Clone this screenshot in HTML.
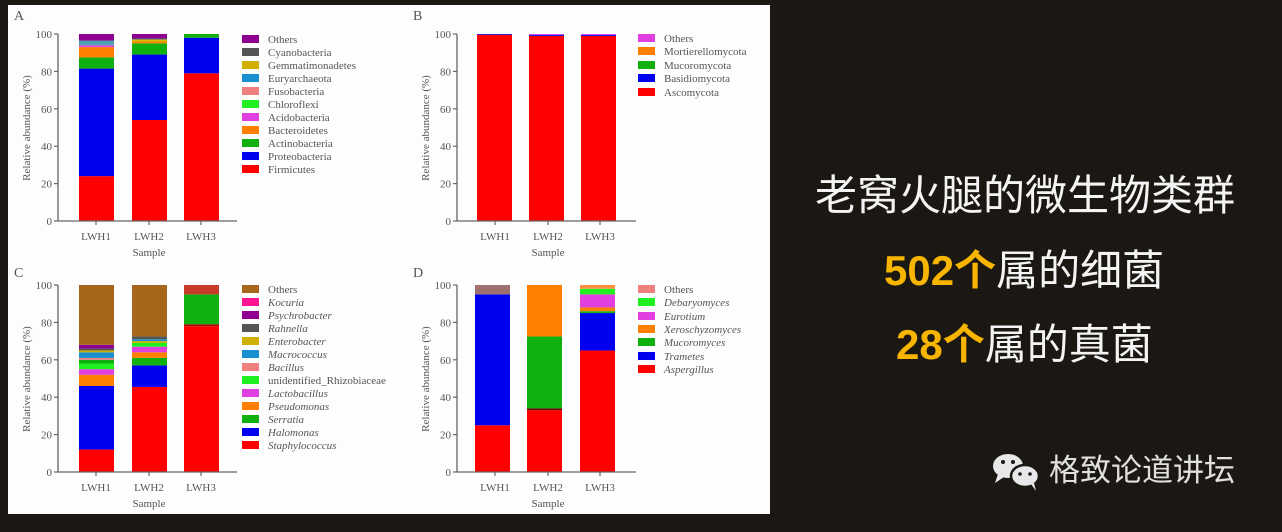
<!DOCTYPE html>
<html><head><meta charset="utf-8"><style>
html,body{margin:0;padding:0;background:#1b1713;}
body{width:1282px;height:532px;position:relative;overflow:hidden;}
svg{position:absolute;left:0;top:0;}
.t{font-family:"Liberation Serif",serif;fill:#555;font-size:11px;}
.ti{font-family:"Liberation Serif",serif;fill:#555;font-size:11px;font-style:italic;}
.cn{position:absolute;font-family:"Liberation Sans","Noto Sans CJK SC",sans-serif;color:#f4f4f4;white-space:nowrap;}
.y{color:#f7b500;font-weight:bold;}
</style></head><body>
<svg width="1282" height="532" viewBox="0 0 1282 532">
<rect x="8" y="5" width="762" height="509" fill="#fdfdfd"/>
<defs>
<g id="axes">
 <line x1="58" y1="34" x2="58" y2="221" stroke="#666" stroke-width="1.3"/>
 <line x1="58" y1="221" x2="237" y2="221" stroke="#666" stroke-width="1.3"/>
 <g stroke="#666" stroke-width="1.2">
 <line x1="54" y1="221" x2="58" y2="221"/><line x1="54" y1="183.6" x2="58" y2="183.6"/><line x1="54" y1="146.2" x2="58" y2="146.2"/><line x1="54" y1="108.8" x2="58" y2="108.8"/><line x1="54" y1="71.4" x2="58" y2="71.4"/><line x1="54" y1="34" x2="58" y2="34"/>
 <line x1="96" y1="221" x2="96" y2="225"/><line x1="149" y1="221" x2="149" y2="225"/><line x1="201" y1="221" x2="201" y2="225"/>
 </g>
 <g class="t" text-anchor="end">
 <text x="52" y="225">0</text><text x="52" y="187.6">20</text><text x="52" y="150.2">40</text><text x="52" y="112.8">60</text><text x="52" y="75.4">80</text><text x="52" y="38">100</text>
 </g>
 <g class="t" text-anchor="middle">
 <text x="96" y="240">LWH1</text><text x="149" y="240">LWH2</text><text x="201" y="240">LWH3</text>
 <text x="149" y="256">Sample</text>
 <text transform="translate(30,128) rotate(-90)">Relative abundance (%)</text>
 </g>
</g>
</defs>

<!-- Panel A -->
<text x="14" y="20" class="t" style="font-size:14px">A</text>
<g transform="translate(0,221) scale(1,-1.87)">
 <rect x="79" y="0" width="35" height="24" fill="#f00"/><rect x="79" y="24" width="35" height="57.5" fill="#0000f0"/><rect x="79" y="81.5" width="35" height="6" fill="#10b010"/><rect x="79" y="87.5" width="35" height="5.5" fill="#ff8000"/><rect x="79" y="93" width="35" height="1" fill="#e040e0"/><rect x="79" y="94" width="35" height="2.5" fill="#50a0b0"/><rect x="79" y="96.5" width="35" height="3.5" fill="#900090"/>
 <rect x="132" y="0" width="35" height="54" fill="#f00"/><rect x="132" y="54" width="35" height="35" fill="#0000f0"/><rect x="132" y="89" width="35" height="6" fill="#10b010"/><rect x="132" y="95" width="35" height="1" fill="#ff8000"/><rect x="132" y="96" width="35" height="1" fill="#d0c000"/><rect x="132" y="97" width="35" height="0.6" fill="#666"/><rect x="132" y="97.6" width="35" height="2.4" fill="#900090"/>
 <rect x="184" y="0" width="35" height="79" fill="#f00"/><rect x="184" y="79" width="35" height="19" fill="#0000f0"/><rect x="184" y="98" width="35" height="2" fill="#10b010"/>
</g>
<use href="#axes"/>
<g>
 <rect x="242" y="35" width="17" height="8" fill="#900090"/><text x="268" y="43" class="t">Others</text>
 <rect x="242" y="48" width="17" height="8" fill="#555"/><text x="268" y="56" class="t">Cyanobacteria</text>
 <rect x="242" y="61" width="17" height="8" fill="#d0b000"/><text x="268" y="69" class="t">Gemmatimonadetes</text>
 <rect x="242" y="74" width="17" height="8" fill="#1890d0"/><text x="268" y="82" class="t">Euryarchaeota</text>
 <rect x="242" y="87" width="17" height="8" fill="#f08080"/><text x="268" y="95" class="t">Fusobacteria</text>
 <rect x="242" y="100" width="17" height="8" fill="#20f020"/><text x="268" y="108" class="t">Chloroflexi</text>
 <rect x="242" y="113" width="17" height="8" fill="#e040e0"/><text x="268" y="121" class="t">Acidobacteria</text>
 <rect x="242" y="126" width="17" height="8" fill="#ff8000"/><text x="268" y="134" class="t">Bacteroidetes</text>
 <rect x="242" y="139" width="17" height="8" fill="#10b010"/><text x="268" y="147" class="t">Actinobacteria</text>
 <rect x="242" y="152" width="17" height="8" fill="#0000f0"/><text x="268" y="160" class="t">Proteobacteria</text>
 <rect x="242" y="165" width="17" height="8" fill="#f00"/><text x="268" y="173" class="t">Firmicutes</text>
</g>

<!-- Panel B -->
<text x="413" y="20" class="t" style="font-size:14px">B</text>
<g transform="translate(399,221) scale(1,-1.87)">
 <rect x="78" y="0" width="35" height="99.6" fill="#f00"/><rect x="78" y="99.6" width="35" height="0.4" fill="#0000f0"/>
 <rect x="130" y="0" width="35" height="99" fill="#f00"/><rect x="130" y="99" width="35" height="0.6" fill="#0000f0"/><rect x="130" y="99.6" width="35" height="0.4" fill="#e040e0"/>
 <rect x="182" y="0" width="35" height="99" fill="#f00"/><rect x="182" y="99" width="35" height="0.6" fill="#0000f0"/><rect x="182" y="99.6" width="35" height="0.4" fill="#e040e0"/>
</g>
<use href="#axes" transform="translate(399,0)"/>
<g>
 <rect x="638" y="34" width="17" height="8" fill="#e040e0"/><text x="664" y="42" class="t">Others</text>
 <rect x="638" y="47" width="17" height="8" fill="#ff8000"/><text x="664" y="55" class="t">Mortierellomycota</text>
 <rect x="638" y="61" width="17" height="8" fill="#10b010"/><text x="664" y="69" class="t">Mucoromycota</text>
 <rect x="638" y="74" width="17" height="8" fill="#0000f0"/><text x="664" y="82" class="t">Basidiomycota</text>
 <rect x="638" y="88" width="17" height="8" fill="#f00"/><text x="664" y="96" class="t">Ascomycota</text>
</g>

<!-- Panel C -->
<text x="14" y="277" class="t" style="font-size:14px">C</text>
<g transform="translate(0,472) scale(1,-1.87)">
 <rect x="79" y="0" width="35" height="12" fill="#f00"/><rect x="79" y="12" width="35" height="34" fill="#0000f0"/><rect x="79" y="46" width="35" height="6" fill="#ff8000"/><rect x="79" y="52" width="35" height="3" fill="#e040e0"/><rect x="79" y="55" width="35" height="3" fill="#20f020"/><rect x="79" y="58" width="35" height="2" fill="#10b010"/><rect x="79" y="60" width="35" height="1" fill="#f08080"/><rect x="79" y="61" width="35" height="3" fill="#1890d0"/><rect x="79" y="64" width="35" height="1" fill="#d0b000"/><rect x="79" y="65" width="35" height="1" fill="#555"/><rect x="79" y="66" width="35" height="2" fill="#900090"/><rect x="79" y="68" width="35" height="32" fill="#a8651c"/>
 <rect x="132" y="0" width="35" height="45.5" fill="#f00"/><rect x="132" y="45.5" width="35" height="11.5" fill="#0000f0"/><rect x="132" y="57" width="35" height="4" fill="#10b010"/><rect x="132" y="61" width="35" height="3" fill="#ff8000"/><rect x="132" y="64" width="35" height="3" fill="#e040e0"/><rect x="132" y="67" width="35" height="2" fill="#20f020"/><rect x="132" y="69" width="35" height="1" fill="#d0b000"/><rect x="132" y="70" width="35" height="1" fill="#1890d0"/><rect x="132" y="71" width="35" height="1.5" fill="#555"/><rect x="132" y="72.5" width="35" height="27.5" fill="#a8651c"/>
 <rect x="184" y="0" width="35" height="78" fill="#f00"/><rect x="184" y="78" width="35" height="1" fill="#a00"/><rect x="184" y="79" width="35" height="16" fill="#10b010"/><rect x="184" y="95" width="35" height="5" fill="#c83a2a"/>
</g>
<use href="#axes" transform="translate(0,251)"/>
<g>
 <rect x="242" y="285" width="17" height="8" fill="#a8651c"/><text x="268" y="293" class="t">Others</text>
 <rect x="242" y="298" width="17" height="8" fill="#ff1493"/><text x="268" y="306" class="ti">Kocuria</text>
 <rect x="242" y="311" width="17" height="8" fill="#900090"/><text x="268" y="319" class="ti">Psychrobacter</text>
 <rect x="242" y="324" width="17" height="8" fill="#555"/><text x="268" y="332" class="ti">Rahnella</text>
 <rect x="242" y="337" width="17" height="8" fill="#d0b000"/><text x="268" y="345" class="ti">Enterobacter</text>
 <rect x="242" y="350" width="17" height="8" fill="#1890d0"/><text x="268" y="358" class="ti">Macrococcus</text>
 <rect x="242" y="363" width="17" height="8" fill="#f08080"/><text x="268" y="371" class="ti">Bacillus</text>
 <rect x="242" y="376" width="17" height="8" fill="#20f020"/><text x="268" y="384" class="t">unidentified_Rhizobiaceae</text>
 <rect x="242" y="389" width="17" height="8" fill="#e040e0"/><text x="268" y="397" class="ti">Lactobacillus</text>
 <rect x="242" y="402" width="17" height="8" fill="#ff8000"/><text x="268" y="410" class="ti">Pseudomonas</text>
 <rect x="242" y="415" width="17" height="8" fill="#10b010"/><text x="268" y="423" class="ti">Serratia</text>
 <rect x="242" y="428" width="17" height="8" fill="#0000f0"/><text x="268" y="436" class="ti">Halomonas</text>
 <rect x="242" y="441" width="17" height="8" fill="#f00"/><text x="268" y="449" class="ti">Staphylococcus</text>
</g>

<!-- Panel D -->
<text x="413" y="277" class="t" style="font-size:14px">D</text>
<g transform="translate(399,472) scale(1,-1.87)">
 <rect x="76" y="0" width="35" height="25" fill="#f00"/><rect x="76" y="25" width="35" height="70" fill="#0000f0"/><rect x="76" y="95" width="35" height="5" fill="#a07070"/>
 <rect x="128" y="0" width="35" height="33" fill="#f00"/><rect x="128" y="33" width="35" height="1" fill="#700"/><rect x="128" y="34" width="35" height="38.5" fill="#10b010"/><rect x="128" y="72.5" width="35" height="27.5" fill="#ff8000"/>
 <rect x="181" y="0" width="35" height="65" fill="#f00"/><rect x="181" y="65" width="35" height="20" fill="#0000f0"/><rect x="181" y="85" width="35" height="1" fill="#10b010"/><rect x="181" y="86" width="35" height="2" fill="#ff8000"/><rect x="181" y="88" width="35" height="7" fill="#e040e0"/><rect x="181" y="95" width="35" height="3" fill="#20f020"/><rect x="181" y="98" width="35" height="2" fill="#ff9040"/>
</g>
<use href="#axes" transform="translate(399,251)"/>
<g>
 <rect x="638" y="285" width="17" height="8" fill="#f08080"/><text x="664" y="293" class="t">Others</text>
 <rect x="638" y="298" width="17" height="8" fill="#20f020"/><text x="664" y="306" class="ti">Debaryomyces</text>
 <rect x="638" y="312" width="17" height="8" fill="#e040e0"/><text x="664" y="320" class="ti">Eurotium</text>
 <rect x="638" y="325" width="17" height="8" fill="#ff8000"/><text x="664" y="333" class="ti">Xeroschyzomyces</text>
 <rect x="638" y="338" width="17" height="8" fill="#10b010"/><text x="664" y="346" class="ti">Mucoromyces</text>
 <rect x="638" y="352" width="17" height="8" fill="#0000f0"/><text x="664" y="360" class="ti">Trametes</text>
 <rect x="638" y="365" width="17" height="8" fill="#f00"/><text x="664" y="373" class="ti">Aspergillus</text>
</g>

<!-- wechat icon -->
<g fill="#e8e8e8">
 <ellipse cx="1008" cy="466" rx="15" ry="12"/>
 <path d="M998 474 L995 483 L1004 477 Z"/>
 <ellipse cx="1025" cy="476" rx="14" ry="11" stroke="#1b1713" stroke-width="2.5"/>
 <path d="M1031 484 L1036 491 L1034 483 Z"/>
</g>
<g fill="#1b1713"><circle cx="1003" cy="462" r="2"/><circle cx="1013" cy="462" r="2"/><circle cx="1020" cy="474" r="1.8"/><circle cx="1030" cy="474" r="1.8"/></g>
</svg>
<div class="cn" style="left:815px;top:170px;font-size:42px;line-height:52px;">老窝火腿的微生物类群</div>
<div class="cn" style="left:884px;top:245px;font-size:42px;line-height:52px;"><span class="y">502个</span>属的细菌</div>
<div class="cn" style="left:896px;top:319px;font-size:42px;line-height:52px;"><span class="y">28个</span>属的真菌</div>
<div class="cn" style="left:1049px;top:452px;font-size:31px;line-height:38px;color:#e0e0e0;">格致论道讲坛</div>
</body></html>
